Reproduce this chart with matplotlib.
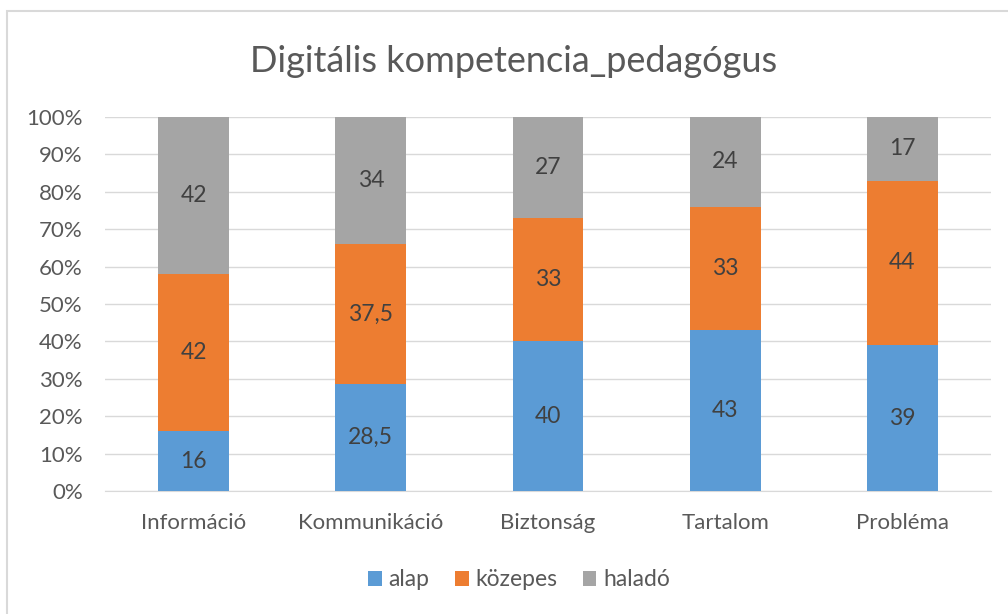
import numpy as np
import matplotlib.pyplot as plt
from matplotlib.patches import Rectangle

categories = ['Információ', 'Kommunikáció', 'Biztonság', 'Tartalom', 'Probléma']
alap = [16, 28.5, 40, 43, 39]
kozepes = [42, 37.5, 33, 33, 44]
halado = [42, 34, 27, 24, 17]
series_names = ['alap', 'közepes', 'haladó']
colors = ['#5B9BD5', '#ED7D31', '#A5A5A5']
yticks = np.arange(0, 101, 10)

plt.rcParams['font.family'] = ['Lato', 'DejaVu Sans']
txt = '#595959'

W, H = 1008, 614
fig = plt.figure(figsize=(W / 100, H / 100), dpi=100)
ax = fig.add_axes([105 / W, 1 - 491 / H, (991 - 105) / W, (491 - 117) / H])

# outer chart border (cut off at right and bottom like the screenshot)
fig.patches.append(Rectangle((7 / W, -0.1), 1.2, 1 - 11 / H + 0.1,
                             transform=fig.transFigure, fill=False,
                             edgecolor='#D9D9D9', linewidth=1.5))

data = np.array([alap, kozepes, halado], dtype=float)
pct = data / data.sum(axis=0) * 100
x = np.arange(len(categories))
bottom = np.zeros(len(categories))
for vals, raw, name, c in zip(pct, data, series_names, colors):
    ax.bar(x, vals, 0.4, bottom=bottom, color=c, label=name, zorder=3)
    for xi, b, v, r in zip(x, bottom, vals, raw):
        lab = ('%g' % r).replace('.', ',')
        ax.text(xi, b + v / 2, lab, ha='center', va='center',
                fontsize=16.5, color='#404040', zorder=4)
    bottom += vals

ax.set_xlim(-0.5, len(categories) - 0.5)
ax.set_ylim(0, 100)
ax.set_yticks(yticks)
ax.set_yticklabels(['%d%%' % t for t in yticks])
ax.set_xticks(x)
ax.set_xticklabels(categories)
ax.tick_params(length=0, labelsize=16, colors=txt)
ax.tick_params(axis='x', pad=16)
ax.tick_params(axis='y', pad=16)
for lbl in ax.get_yticklabels():
    lbl.set_horizontalalignment('right')
ax.grid(axis='y', color='#D9D9D9', linewidth=1, zorder=0)
for s in ['top', 'right', 'left']:
    ax.spines[s].set_visible(False)
ax.spines['bottom'].set_color('#D9D9D9')

fig.text(514 / W, 1 - 62 / H, 'Digitális kompetencia_pedagógus',
         ha='center', va='center', fontsize=26, color=txt)

fig.legend(loc='center', bbox_to_anchor=(519 / W, 1 - 580 / H), ncol=3,
           frameon=False, fontsize=16.5, labelcolor=txt, handlelength=0.6,
           handleheight=0.6, handletextpad=0.3, columnspacing=1.1)

fig.savefig('out.png', dpi=100)
